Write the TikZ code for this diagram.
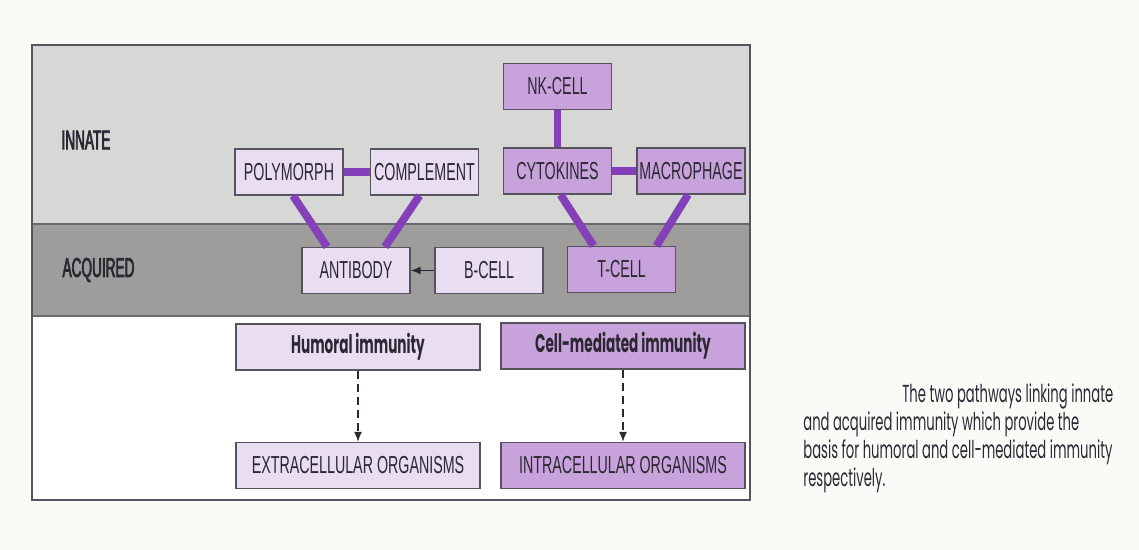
\documentclass[tikz,border=0pt]{standalone}
\usepackage{fontspec}
\setmainfont{Liberation Sans}[FakeStretch=0.58]
\newfontfamily\bandfont{Liberation Sans}[FakeStretch=0.5,FakeBold=2.5]
\newfontfamily\capfont{Poppins}[FakeStretch=0.535]
\usepackage{tikz}
\usetikzlibrary{arrows.meta,positioning}

\definecolor{paper}{HTML}{FBFAF7}
\definecolor{innategray}{HTML}{D7D7D5}
\definecolor{acqgray}{HTML}{9E9D9B}
\definecolor{lightlav}{HTML}{E9DDF1}
\definecolor{midlav}{HTML}{C8A2DA}
\definecolor{linkpurple}{HTML}{8340B8}
\definecolor{ink}{HTML}{2B2833}

\begin{document}
\begin{tikzpicture}[
    x=0.02cm, y=-0.02cm,
    every node/.style={font=\fontsize{14}{16}\selectfont,text=ink},
    lcell/.style={draw=ink!80,line width=0.8pt,fill=lightlav,minimum width=2.16cm,
                  minimum height=0.92cm,inner sep=1pt},
    pcell/.style={lcell,fill=midlav},
    wide/.style={minimum width=4.88cm},
    band/.style={font=\bandfont\fontsize{15.5}{17}\selectfont},
    immu/.style={font=\capfont\bfseries\fontsize{14.5}{15}\selectfont},
    link/.style={line width=4.5pt,linkpurple},
    feed/.style={-{Latex[length=2mm,width=1.6mm]},line width=0.8pt,ink},
    dline/.style={feed,dashed,dash pattern=on 4.5pt off 3pt}
]
\useasboundingbox (0,0) rectangle (1139,550);
\fill[paper] (0,0) rectangle (1139,550);

% Bands: innate / acquired / outcome
\fill[innategray] (32,45) rectangle (750,224);
\fill[acqgray] (32,224) rectangle (750,316);
\fill[white] (32,316) rectangle (750,500);
\draw[ink!70,line width=0.6pt] (32,224) -- (750,224) (32,316) -- (750,316);
\draw[ink!80,line width=0.9pt] (32,45) rectangle (750,500);

\node[band] (INN) at (86,140) {INNATE};
\node[band] (ACQ) at (98.5,270) {ACQUIRED};

% Innate cells
\node[lcell] (POLY) at (289,172) {POLYMORPH};
\node[lcell] (COMP) at (424.5,172) {COMPLEMENT};
\node[pcell] (NK)   at (557.5,86.5) {NK-CELL};
\node[pcell] (CYTO) at (557.5,171) {CYTOKINES};
\node[pcell] (MACR) at (691,171) {MACROPHAGE};

% Acquired cells
\node[lcell] (AB) at (356,270.5) {ANTIBODY};
\node[lcell] (BC) at (489,270.5) {B-CELL};
\node[pcell] (TC) at (621.5,269.5) {T-CELL};

% Links
\draw[link] (POLY) -- (COMP);
\draw[link] (NK) -- (CYTO);
\draw[link] (CYTO) -- (MACR);
\draw[link] ([xshift=4*0.02cm]POLY.south) -- ([xshift=-29*0.02cm]AB.north);
\draw[link] ([xshift=-5*0.02cm]COMP.south) -- ([xshift=29*0.02cm]AB.north);
\draw[link] ([xshift=3*0.02cm]CYTO.south) -- ([xshift=-28*0.02cm]TC.north);
\draw[link] ([xshift=-3*0.02cm]MACR.south) -- ([xshift=35*0.02cm]TC.north);
\draw[feed] (BC) -- (AB);

% Pathways
\node[lcell,wide,immu] (HUM) at (358,347) {Humoral immunity};
\node[pcell,wide,immu] (CMI) at (623,346) {Cell-mediated immunity};
\node[lcell,wide] (EXT) at (358,465.5) {EXTRACELLULAR ORGANISMS};
\node[pcell,wide] (INT) at (623,465.5) {INTRACELLULAR ORGANISMS};
\draw[dline] (HUM) -- (EXT);
\draw[dline] (CMI) -- (INT);

% Caption
\node[anchor=north west,align=left,inner sep=0pt,
      font=\capfont\fontsize{14}{16}\selectfont] (CAP) at (803,383)
    {\hspace*{1.98cm}The two pathways linking innate\\
     and acquired immunity which provide the\\
     basis for humoral and cell-mediated immunity\\
     respectively.};
\end{tikzpicture}
\end{document}
